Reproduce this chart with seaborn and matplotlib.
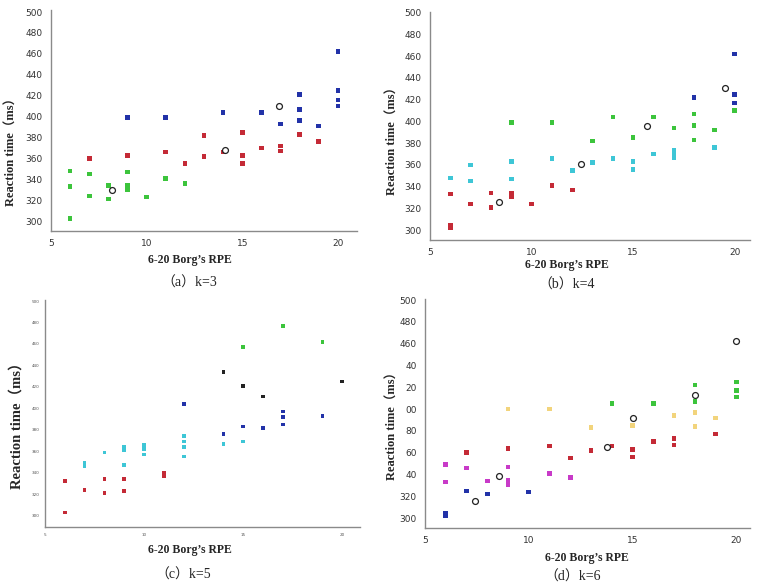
import pandas as pd
import matplotlib.pyplot as plt
import seaborn as sns

# (a) k=3
a_rpe = [6, 6, 6, 6, 7, 7, 8, 8, 9, 9, 9, 9, 10, 11, 12,
         7, 9, 11, 12, 13, 13, 14, 15, 15, 15, 16, 17, 17, 18, 19,
         9, 11, 14, 16, 17, 18, 18, 18, 19, 20, 20, 20, 20]
a_rt = [348, 333, 303, 302, 345, 324, 334, 321, 347, 334, 332, 330, 323, 341, 336,
        360, 363, 366, 355, 382, 362, 366, 385, 363, 355, 370, 372, 367, 383, 376,
        399, 399, 404, 404, 393, 421, 407, 396, 391, 462, 425, 416, 410]
a_grp = ['g'] * 15 + ['r'] * 15 + ['b'] * 13
a_cx = [8.2, 14.1, 16.9]
a_cy = [330, 368, 410]

# (b) k=4
b_rpe = [6, 6, 6, 7, 8, 8, 9, 9, 9, 10, 11, 12,
         6, 7, 7, 9, 9, 11, 12, 13, 14, 15, 15, 16, 17, 17, 17, 19,
         9, 11, 13, 14, 15, 16, 17, 18, 18, 18, 19, 20,
         18, 20, 20, 20]
b_rt = [333, 304, 302, 324, 334, 321, 334, 332, 331, 324, 341, 337,
        348, 360, 345, 363, 347, 366, 355, 362, 366, 363, 356, 370, 373, 370, 367, 376,
        399, 399, 382, 404, 385, 404, 394, 407, 396, 383, 392, 410,
        422, 462, 425, 417]
b_grp = ['r'] * 12 + ['c'] * 16 + ['g'] * 12 + ['b'] * 4
b_cx = [8.4, 12.45, 15.7, 19.5]
b_cy = [326, 361, 396, 431]

# (c) k=5
c_rpe = [6, 6, 7, 8, 8, 9, 9, 11, 11,
         7, 7, 8, 9, 9, 9, 10, 10, 10, 12, 12, 12, 12, 14, 15,
         12, 14, 15, 16, 17, 17, 17, 19,
         14, 15, 16, 20,
         15, 17, 19]
c_rt = [332, 303, 324, 334, 321, 334, 323, 340, 337,
        349, 346, 359, 364, 361, 347, 366, 362, 357, 374, 369, 364, 355, 367, 369,
        404, 376, 383, 382, 397, 392, 385, 393,
        434, 421, 411, 425,
        457, 477, 462]
c_grp = ['r'] * 9 + ['c'] * 15 + ['b'] * 8 + ['k'] * 4 + ['g'] * 3

# (d) k=6
d_rpe = [6, 6, 7, 8, 10,
         6, 6, 7, 8, 9, 9, 9, 9, 11, 12,
         7, 9, 11, 12, 13, 14, 15, 15, 16, 17, 17, 19,
         9, 11, 13, 15, 17, 18, 18, 19,
         14, 16, 18, 18, 20, 20, 20]
d_rt = [304, 302, 325, 322, 324,
        349, 333, 346, 334, 347, 335, 332, 331, 341, 337,
        360, 364, 366, 355, 362, 366, 363, 356, 370, 373, 367, 377,
        400, 400, 383, 385, 394, 397, 384, 392,
        405, 405, 422, 407, 425, 417, 411]
d_grp = ['b'] * 5 + ['m'] * 10 + ['r'] * 12 + ['y'] * 8 + ['g'] * 7
d_cx = [7.4, 8.55, 13.75, 15.0, 18.0, 20.0]
d_cy = [315.5, 339, 365, 392, 413, 462.5]

y_ticks = [300, 320, 340, 360, 380, 400, 420, 440, 460, 480, 500]
y_labels = ['300', '320', '340', '360', '380', '400', '420', '440', '460', '480', '500']
d_labels = ['300', '320', '40', '60', '80', '00', '20', '40', '460', '480', '500']
x_ticks = [5, 10, 15, 20]

colors = {'g': '#3cc43c', 'r': '#c42a36', 'b': '#2232a8', 'c': '#3ec6d6',
          'm': '#c83ac8', 'y': '#f2d47c', 'k': '#222222'}

sns.set_style('white')
serif = ['Liberation Serif', 'Noto Sans CJK SC']

fig = plt.figure(figsize=(7.62, 5.88), dpi=100)

panels = [
    ([0.0669, 0.6071, 0.4016, 0.3759], a_rpe, a_rt, a_grp, a_cx, a_cy, (290.5, 502), 21.0, y_labels, 11),
    ([0.5643, 0.5918, 0.4200, 0.3883], b_rpe, b_rt, b_grp, b_cx, b_cy, (290.8, 501), 20.75, y_labels, 11),
    ([0.0591, 0.1037, 0.4134, 0.3861], c_rpe, c_rt, c_grp, [], [], (289.4, 501), 20.9, y_labels, 7),
    ([0.5577, 0.1020, 0.4265, 0.3895], d_rpe, d_rt, d_grp, d_cx, d_cy, (290.9, 501), 20.65, d_labels, 11),
]

axes = []
for rect, xs, ys, gs, cx, cy, ylim, xmax, ylabs, ms in panels:
    ax = fig.add_axes(rect)
    df = pd.DataFrame({'rpe': xs, 'rt': ys, 'grp': gs})
    sns.scatterplot(data=df, x='rpe', y='rt', hue='grp', palette=colors, marker='s',
                    s=ms, linewidth=0, legend=False, ax=ax)
    if cx:
        sns.scatterplot(x=cx, y=cy, marker='o', s=18, facecolor='white',
                        edgecolor='#222222', linewidth=0.9, ax=ax)
    ax.set_xlim(5, xmax)
    ax.set_ylim(*ylim)
    ax.set_xticks(x_ticks)
    ax.set_yticks(y_ticks)
    ax.set_yticklabels(ylabs)
    ax.set_xlabel('')
    ax.set_ylabel('')
    sns.despine(ax=ax)
    for sp in ['left', 'bottom']:
        ax.spines[sp].set_color('#8a8a8a')
        ax.spines[sp].set_linewidth(1.0)
    ax.tick_params(direction='in', length=2.5, width=0.7, color='#8a8a8a',
                   labelsize=6.5, labelcolor='#333333', pad=6)
    axes.append(ax)

# panel (c) has tiny, barely legible tick labels
axes[2].tick_params(labelsize=3, pad=4, labelcolor='#555555')

# axis titles and captions
ylab = 'Reaction time（ms）'
xlab = '6-20 Borg’s RPE'
fig.text(0.0157, 0.7466, ylab, rotation=90, ha='center', va='center',
         family=serif, weight='bold', fontsize=9)
fig.text(0.5157, 0.765, ylab, rotation=90, ha='center', va='center',
         family=serif, weight='bold', fontsize=9)
fig.text(0.0223, 0.282, ylab, rotation=90, ha='center', va='center',
         family=serif, weight='bold', fontsize=10.5)
fig.text(0.5157, 0.280, ylab, rotation=90, ha='center', va='center',
         family=serif, weight='bold', fontsize=9)

fig.text(0.249, 0.558, xlab, ha='center', va='center', family=serif, weight='bold', fontsize=8.5)
fig.text(0.744, 0.549, xlab, ha='center', va='center', family=serif, weight='bold', fontsize=8.5)
fig.text(0.249, 0.0646, xlab, ha='center', va='center', family=serif, weight='bold', fontsize=8.5)
fig.text(0.770, 0.051, xlab, ha='center', va='center', family=serif, weight='bold', fontsize=8.5)

fig.text(0.249, 0.519, '（a）k=3', ha='center', va='center', family=serif, fontsize=10)
fig.text(0.744, 0.515, '（b）k=4', ha='center', va='center', family=serif, fontsize=10)
fig.text(0.240, 0.0221, '（c）k=5', ha='center', va='center', family=serif, fontsize=10)
fig.text(0.752, 0.0187, '（d）k=6', ha='center', va='center', family=serif, fontsize=10)

fig.savefig('out.png', dpi=100)
